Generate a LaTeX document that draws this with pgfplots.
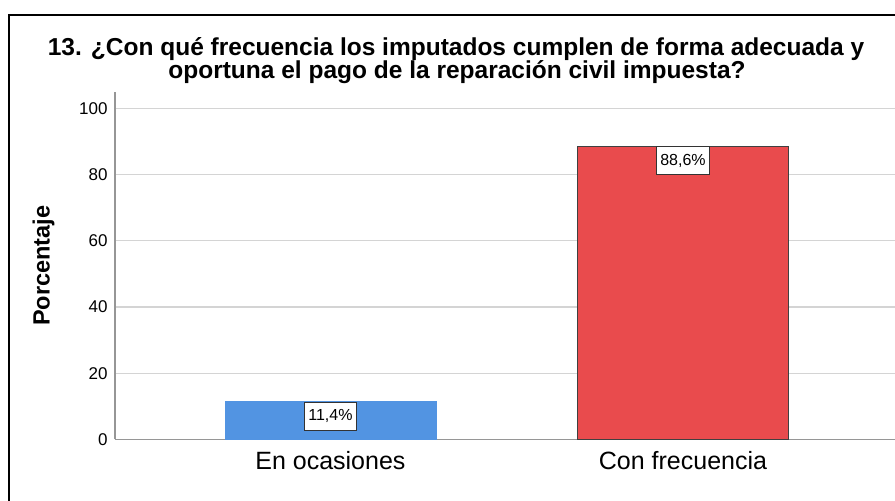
\documentclass[border=0pt]{standalone}
\usepackage{pgfplots}
\pgfplotsset{compat=1.18}
\usepackage{fontspec}
\setmainfont{Liberation Sans}
\definecolor{barblue}{RGB}{82,148,226}
\definecolor{barred}{RGB}{233,75,77}
\definecolor{gridgray}{RGB}{212,212,212}
\definecolor{axisgray}{RGB}{150,150,150}
\begin{document}
\begin{tikzpicture}
% picture is 895 x 501 px, 1px = 1pt, y pointing down as negative
\useasboundingbox (0pt,0pt) rectangle (895pt,-501pt);
\clip (0pt,0pt) rectangle (895pt,-501pt);
\draw[line width=2pt] (9pt,-520pt) -- (9pt,-15pt) -- (910pt,-15pt);
\node[anchor=base,font=\fontsize{24.5}{26}\selectfont\bfseries] at (456pt,-55pt)
  {13. ¿Con qué frecuencia los imputados cumplen de forma adecuada y};
\node[anchor=base,font=\fontsize{24.5}{26}\selectfont\bfseries] at (457pt,-78pt)
  {oportuna el pago de la reparación civil impuesta?};
\begin{axis}[
  at={(115pt,-439.3pt)}, anchor=south west,
  scale only axis, width=783.4pt, height=347.3pt,
  xmin=-0.611, xmax=1.611, ymin=0, ymax=105,
  axis lines=left, axis line style={-, axisgray, line width=1.2pt},
  ytick={0,20,40,60,80,100},
  xtick={0,1}, xticklabels={En ocasiones, Con frecuencia},
  major tick length=0pt,
  ymajorgrids, grid style={gridgray, line width=1.2pt},
  /pgf/number format/assume math mode=true,
  yticklabel style={font=\fontsize{17}{19}\selectfont, xshift=-4pt},
  xticklabel style={font=\fontsize{25}{28}\selectfont, yshift=-9pt},
  ylabel={Porcentaje},
  every axis y label/.style={at={(axis description cs:-0.0913,0.5)}, rotate=90, anchor=center,
    font=\fontsize{23.5}{25}\selectfont\bfseries},
  ybar, bar width=211pt, bar shift=0pt,
  nodes near coords={\pgfmathprintnumber[fixed,fixed zerofill,precision=1,use comma]{\pgfplotspointmeta}\%},
  every node near coord/.append style={anchor=north, draw=black!80, fill=white,
    font=\fontsize{16}{18}\selectfont, inner xsep=3.5pt, minimum height=28pt, yshift=0pt, line width=1pt},
]
\addplot[fill=barblue, draw=barblue] coordinates {(0,11.4)};
\addplot[fill=barred, draw=black!75, line width=1pt] coordinates {(1,88.6)};
\end{axis}
\end{tikzpicture}
\end{document}
